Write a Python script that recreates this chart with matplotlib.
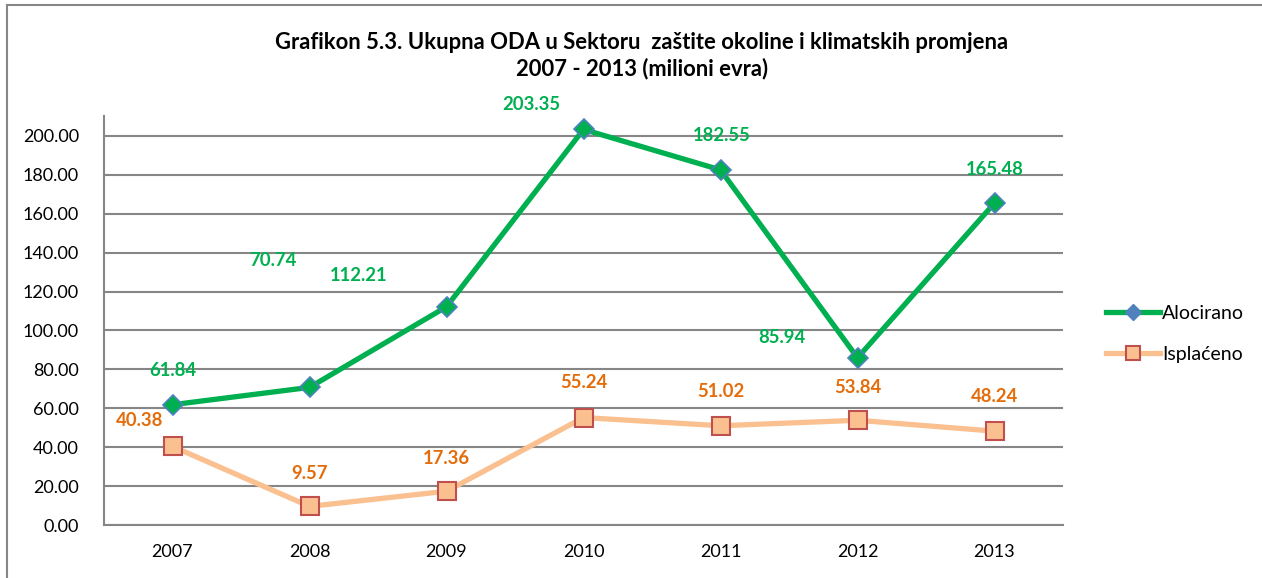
import matplotlib
matplotlib.use("Agg")
import matplotlib.pyplot as plt
from matplotlib.lines import Line2D

plt.rcParams['font.family'] = ['Lato', 'DejaVu Sans']

years = ["2007", "2008", "2009", "2010", "2011", "2012", "2013"]
alocirano = [61.84, 70.74, 112.21, 203.35, 182.55, 85.94, 165.48]
isplaceno = [40.38, 9.57, 17.36, 55.24, 51.02, 53.84, 48.24]
yticks = [0, 20, 40, 60, 80, 100, 120, 140, 160, 180, 200]
title = "Grafikon 5.3. Ukupna ODA u Sektoru  zaštite okoline i klimatskih promjena\n2007 - 2013 (milioni evra)"
series_names = ["Alocirano", "Isplaćeno"]

# label offsets in pixels (dx, dy)
off_a = [(0, 34), (-37, 127), (-88, 31), (-52, 25), (1, 34), (-76, 20), (0, 34)]
off_i = [(-33, 26), (0, 33), (0, 33), (0, 35), (0, 34), (0, 33), (0, 35)]

GREEN = "#00B050"
BLUE = "#4F81BD"
PEACH = "#FAC090"
RED = "#C0504D"
ORANGE = "#E46C0A"

fig = plt.figure(figsize=(12.62, 5.78), dpi=100)
ax = fig.add_axes([104/1262, 1-525/578, (1063-104)/1262, (525-116.5)/578])

x = list(range(len(years)))
ax.plot(x, isplaceno, color=PEACH, lw=3.8, marker='s', ms=13.5,
        mfc=PEACH, mec=RED, mew=1.5, zorder=3, solid_joinstyle='round')
ax.plot(x, alocirano, color=GREEN, lw=3.8, marker='D', ms=10.5,
        mfc=GREEN, mec=BLUE, mew=1.2, zorder=4, solid_joinstyle='round')

for i, v in enumerate(alocirano):
    ax.annotate(f"{v:.2f}", (i, v), xytext=off_a[i], textcoords='offset pixels',
                ha='center', va='center', color=GREEN, fontsize=13.3, fontweight='bold', zorder=5)
for i, v in enumerate(isplaceno):
    ax.annotate(f"{v:.2f}", (i, v), xytext=off_i[i], textcoords='offset pixels',
                ha='center', va='center', color=ORANGE, fontsize=13.3, fontweight='bold', zorder=5)

ax.set_xlim(-0.5, len(years) - 0.5)
ax.set_ylim(0, 210)
ax.set_yticks(yticks)
ax.set_yticklabels([f"{t:.2f}" for t in yticks])
ax.set_xticks(x)
ax.set_xticklabels(years)
ax.tick_params(axis='both', length=0, labelsize=13, colors='black')
ax.tick_params(axis='y', pad=18)
ax.tick_params(axis='x', pad=14)
ax.grid(axis='y', color='#868686', lw=1.5)
ax.set_axisbelow(True)
for s in ['top', 'right']:
    ax.spines[s].set_visible(False)
for s in ['left', 'bottom']:
    ax.spines[s].set_color('#868686')
    ax.spines[s].set_linewidth(1.5)

fig.text(642/1262, 1-56/578, title, ha='center', va='center', fontsize=15.8,
         fontweight='bold', linespacing=1.25)

handles = [
    Line2D([0], [0], color=GREEN, lw=3.8, marker='D', ms=8, mfc=BLUE, mec=BLUE),
    Line2D([0], [0], color=PEACH, lw=3.8, marker='s', ms=10, mfc=PEACH, mec=RED, mew=1.5),
]
fig.legend(handles, series_names, loc='center left', bbox_to_anchor=(1098/1262, 1-334/578),
           frameon=False, fontsize=14, handlelength=2.8, labelspacing=1.25,
           handletextpad=0.1, borderaxespad=0)

# outer chart frame (left and top edges visible)
fig.add_artist(Line2D([7/1262, 7/1262], [0, 1-5/578], color='#868686', lw=1.5))
fig.add_artist(Line2D([7/1262, 1], [1-5/578, 1-5/578], color='#868686', lw=1.5))

fig.savefig("out.png", dpi=100)
